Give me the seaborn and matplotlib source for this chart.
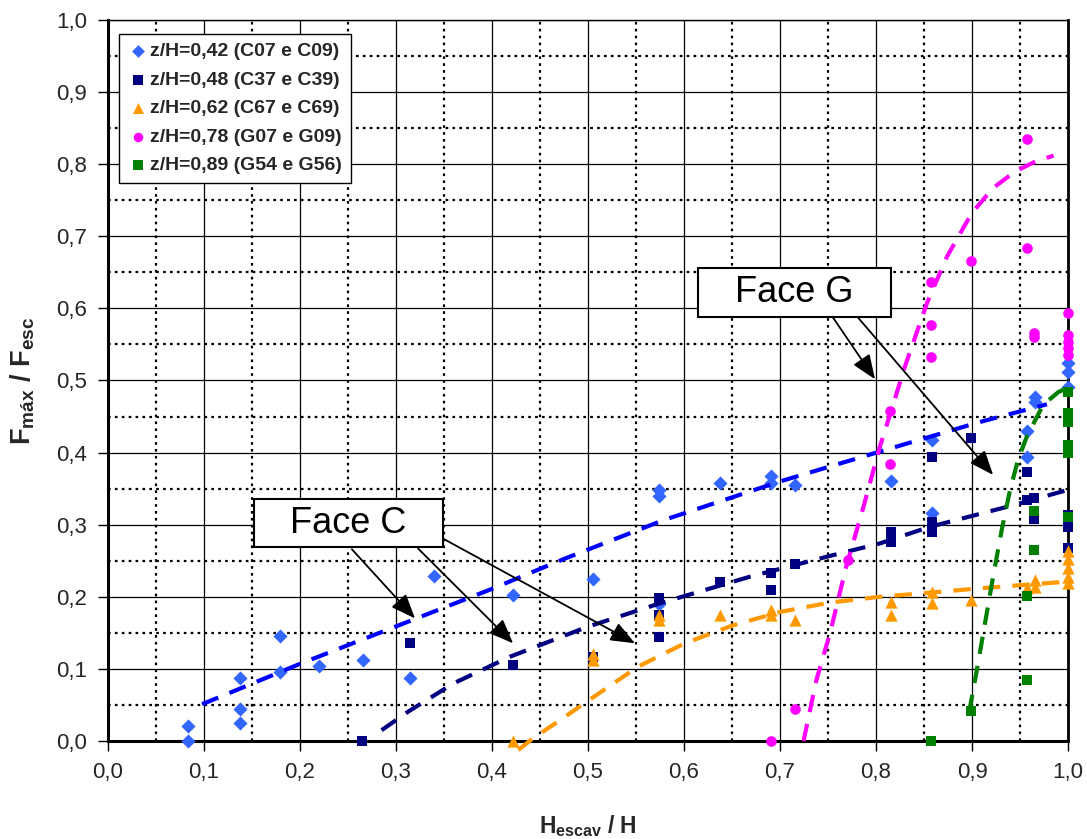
import matplotlib
matplotlib.use("Agg")
import numpy as np
import pandas as pd
import matplotlib.pyplot as plt
import seaborn as sns
from matplotlib.ticker import MultipleLocator, FuncFormatter
from matplotlib.patches import Rectangle

# ---- measured points (H_escav/H, F_max/F_esc) ----
labels = ["z/H=0,42 (C07 e C09)", "z/H=0,48 (C37 e C39)", "z/H=0,62 (C67 e C69)",
          "z/H=0,78 (G07 e G09)", "z/H=0,89 (G54 e G56)"]

x_042 = [0.083, 0.083, 0.1375, 0.1375, 0.1375, 0.179, 0.179, 0.220, 0.266, 0.315, 0.340,
         0.422, 0.5055, 0.574, 0.574, 0.574, 0.637, 0.6906, 0.6906, 0.716, 0.816,
         0.858, 0.858, 0.957, 0.957, 0.9656, 0.9656, 1.0, 1.0, 1.0]
y_042 = [0.021, 0.0, 0.087, 0.044, 0.025, 0.146, 0.096, 0.104, 0.113, 0.087, 0.229,
         0.203, 0.224, 0.348, 0.340, 0.190, 0.358, 0.367, 0.358, 0.355, 0.361,
         0.4175, 0.316, 0.430, 0.394, 0.4767, 0.470, 0.524, 0.512, 0.491]

x_048 = [0.265, 0.315, 0.422, 0.5055, 0.574, 0.574, 0.574, 0.637, 0.6906, 0.6906, 0.716,
         0.816, 0.816, 0.858, 0.858, 0.858, 0.8986, 0.957, 0.957, 0.9646, 0.9646,
         1.0, 1.0, 1.0]
y_048 = [0.0, 0.136, 0.105, 0.116, 0.199, 0.175, 0.144, 0.221, 0.233, 0.210, 0.246,
         0.290, 0.276, 0.394, 0.304, 0.290, 0.420, 0.3735, 0.334, 0.337, 0.3075,
         0.3135, 0.297, 0.267]

x_062 = [0.422, 0.5055, 0.5055, 0.574, 0.574, 0.637, 0.6906, 0.6906, 0.716, 0.816, 0.816,
         0.858, 0.858, 0.8986, 0.957, 0.9656, 0.9656, 1.0, 1.0, 1.0, 1.0, 1.0]
y_062 = [0.0, 0.120, 0.113, 0.175, 0.168, 0.175, 0.182, 0.175, 0.168, 0.193, 0.175,
         0.207, 0.191, 0.196, 0.212, 0.223, 0.213, 0.263, 0.253, 0.240, 0.228, 0.219]

x_078 = [0.6906, 0.716, 0.771, 0.8146, 0.8146, 0.857, 0.857, 0.857, 0.8986, 0.957, 0.957,
         0.9646, 0.9646, 1.0, 1.0, 1.0, 1.0, 1.0]
y_078 = [0.0, 0.045, 0.251, 0.458, 0.384, 0.637, 0.577, 0.533, 0.666, 0.835, 0.684,
         0.566, 0.561, 0.593, 0.563, 0.554, 0.545, 0.535]

x_089 = [0.857, 0.8986, 0.957, 0.957, 0.9646, 0.9646, 1.0, 1.0, 1.0, 1.0, 1.0, 1.0]
y_089 = [0.0, 0.0416, 0.085, 0.201, 0.3195, 0.265, 0.4845, 0.4545, 0.443, 0.4105, 0.399, 0.311]

# ---- trend curves ----
tx_042 = [0.098, 0.2, 0.304, 0.4, 0.474, 0.578, 0.7, 0.808, 0.907, 0.978]
ty_042 = [0.051, 0.107, 0.161, 0.211, 0.252, 0.306, 0.360, 0.403, 0.442, 0.467]

tx_048 = [0.285, 0.313, 0.36, 0.419, 0.4986, 0.575, 0.669, 0.75, 0.804, 0.856, 0.943, 0.999]
ty_048 = [0.015, 0.041, 0.080, 0.117, 0.158, 0.191, 0.228, 0.256, 0.274, 0.297, 0.327, 0.348]

tx_062 = [0.4274, 0.443, 0.471, 0.4986, 0.552, 0.60, 0.65, 0.70, 0.752, 0.804, 0.856, 0.908, 0.999]
ty_062 = [-0.0125, 0.004, 0.029, 0.0545, 0.103, 0.135, 0.160, 0.179, 0.192, 0.200, 0.2057, 0.2118, 0.221]

tx_078 = [0.7245, 0.738, 0.752, 0.769, 0.787, 0.804, 0.8198, 0.83, 0.853, 0.874, 0.8997,
          0.922, 0.945, 0.965, 0.985]
ty_078 = [0.0, 0.085, 0.149, 0.242, 0.325, 0.408, 0.475, 0.519, 0.607, 0.672, 0.732,
          0.767, 0.790, 0.803, 0.812]

tx_089 = [0.897, 0.905, 0.9135, 0.922, 0.931, 0.9396, 0.948, 0.957, 0.974, 0.99, 1.0]
ty_089 = [0.04, 0.098, 0.163, 0.228, 0.293, 0.348, 0.390, 0.422, 0.466, 0.484, 0.49]

point_colors = ["#3366FF", "#000080", "#FF9900", "#FF00FF", "#008000"]
line_colors = ["#0000FF", "#000080", "#FF9900", "#FF00FF", "#008000"]
markers = ["D", "s", "^", "o", "s"]
sizes = [52, 62, 78, 58, 62]

points = [(x_042, y_042), (x_048, y_048), (x_062, y_062), (x_078, y_078), (x_089, y_089)]
trends = [(tx_042, ty_042), (tx_048, ty_048), (tx_062, ty_062), (tx_078, ty_078), (tx_089, ty_089)]

sns.set_theme(style="white")
plt.rcParams['font.family'] = ['Liberation Sans', 'DejaVu Sans']
plt.rcParams['mathtext.fontset'] = 'custom'
plt.rcParams['mathtext.rm'] = 'Liberation Sans'
plt.rcParams['mathtext.bf'] = 'Liberation Sans:bold'
plt.rcParams['mathtext.it'] = 'Liberation Sans:italic'

fig = plt.figure(figsize=(10.87, 8.39), dpi=100)
fig.patch.set_facecolor("white")
ax = fig.add_axes([108 / 1087, 98 / 839, 960 / 1087, 721 / 839])
ax.set_facecolor("white")

# grid: solid at 0.1, dotted at 0.05
ax.xaxis.set_major_locator(MultipleLocator(0.1))
ax.yaxis.set_major_locator(MultipleLocator(0.1))
ax.xaxis.set_minor_locator(MultipleLocator(0.05))
ax.yaxis.set_minor_locator(MultipleLocator(0.05))
ax.grid(which="major", color="black", linewidth=0.9, linestyle="-", zorder=0)
ax.grid(which="minor", color="black", linewidth=1.6, linestyle=(0, (1.2, 1.9)), zorder=0)
ax.set_axisbelow(True)

for (px, py), lab, c, m, s in zip(points, labels, point_colors, markers, sizes):
    df = pd.DataFrame({"x": px, "y": py})
    sns.scatterplot(data=df, x="x", y="y", marker=m, color=c, s=s, linewidth=0,
                    label=lab, ax=ax, zorder=3, clip_on=False)

for (tx, ty), c in zip(trends, line_colors):
    df = pd.DataFrame({"x": tx, "y": ty})
    sns.lineplot(data=df, x="x", y="y", sort=False, estimator=None, color=c,
                 linewidth=3.0, linestyle=(0, (4.2, 2.9)), legend=False,
                 ax=ax, zorder=4, clip_on=False)

ax.set_xlim(0, 1)
ax.set_ylim(0, 1)

fmt = FuncFormatter(lambda v, p: f"{v:.1f}".replace(".", ","))
ax.xaxis.set_major_formatter(fmt)
ax.yaxis.set_major_formatter(fmt)
ax.tick_params(which="major", direction="out", length=7, width=1, color="black",
               labelsize=16, pad=8, bottom=True, left=True)
ax.tick_params(which="minor", length=0)

for side in ["left", "bottom"]:
    ax.spines[side].set_linewidth(2.2)
    ax.spines[side].set_color("black")
ax.spines["right"].set_linewidth(2.0)
ax.spines["right"].set_color("black")
ax.spines["top"].set_linewidth(1.0)
ax.spines["top"].set_color("black")

ax.set_xlabel(r"$\mathbf{H_{escav}\ /\ H}$", fontsize=16.5)
ax.set_ylabel(r"$\mathbf{F_{máx}\ /\ F_{esc}}$", fontsize=19.5)
ax.xaxis.set_label_coords(0.5, -0.1)
ax.yaxis.set_label_coords(-0.074, 0.5)

leg = ax.legend(loc="upper left", bbox_to_anchor=(0.0115, 0.9806), frameon=True,
                fancybox=False, edgecolor="black", framealpha=1,
                prop=dict(weight="bold", size=14), handletextpad=0.05,
                labelspacing=0.56, borderpad=0.45, handlelength=1.1,
                borderaxespad=0, markerscale=0.9)
leg.get_frame().set_linewidth(1.0)
leg.set_zorder(10)

# callout boxes with arrows
callouts = [
    ("Face C", (0.1518, 0.2687), (0.1968, 0.0671),
     [((0.254, 0.266), (0.3198, 0.170)),
      ((0.323, 0.267), (0.422, 0.1355)),
      ((0.3486, 0.281), (0.549, 0.1355))]),
    ("Face G", (0.6149, 0.5885), (0.2007, 0.0671),
     [((0.755, 0.5877), (0.799, 0.5017)),
      ((0.781, 0.5877), (0.922, 0.369))]),
]
for text, (bx, by), (bw, bh), arrows in callouts:
    for start, end in arrows:
        ax.annotate("", xy=end, xytext=start, zorder=6,
                    arrowprops=dict(arrowstyle="-|>,head_length=0.75,head_width=0.3",
                                    color="black", lw=1.3, shrinkA=0, shrinkB=0,
                                    mutation_scale=20))
    ax.add_patch(Rectangle((bx, by), bw, bh, facecolor="white", edgecolor="black",
                           linewidth=1.5, zorder=7))
    ax.text(bx + bw / 2, by + bh / 2, text, ha="center", va="center",
            fontsize=26, color="black", zorder=8)

fig.savefig("out.png", dpi=100, facecolor="white")
